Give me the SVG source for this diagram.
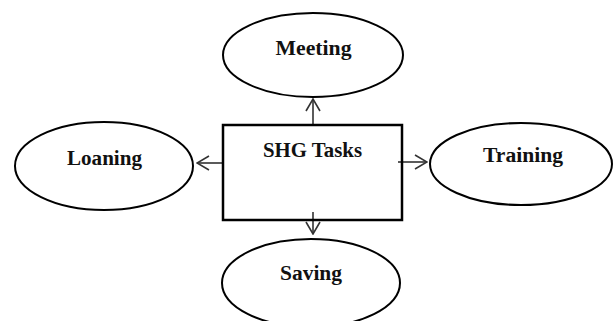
<svg xmlns="http://www.w3.org/2000/svg" width="616" height="321" viewBox="0 0 616 321">
<style>
.n{fill:#fff;stroke:#000;stroke-width:2}
.t{font-family:"Liberation Serif","Times New Roman",serif;font-weight:bold;font-size:20px;fill:#111;text-anchor:middle}
.c{stroke:#333;stroke-width:1.6;fill:none}
</style>
<defs>
<marker id="ah" viewBox="0 0 14 16" refX="13" refY="8" markerWidth="14" markerHeight="16" markerUnits="userSpaceOnUse" orient="auto">
<path d="M1,1 L13,8 L1,15" fill="none" stroke="#333" stroke-width="1.6"/>
</marker>
</defs>
<rect width="616" height="321" fill="#fff"/>
<g id="connectors">
<line class="c" x1="313" y1="125" x2="313" y2="99" marker-end="url(#ah)"/>
<line class="c" x1="223" y1="163" x2="197" y2="163" marker-end="url(#ah)"/>
<line class="c" x1="398" y1="162" x2="427" y2="162" marker-end="url(#ah)"/>
<line class="c" x1="313" y1="212" x2="313" y2="234" marker-end="url(#ah)"/>
</g>
<g id="shg">
<rect x="223" y="125" width="179" height="95" fill="none" stroke="#000" stroke-width="2.5"/>
<text class="t" x="312.5" y="157" textLength="99" lengthAdjust="spacingAndGlyphs">SHG Tasks</text>
</g>
<g id="meeting">
<ellipse class="n" cx="313" cy="55" rx="90" ry="42"/>
<text class="t" x="313.5" y="55" textLength="76" lengthAdjust="spacingAndGlyphs">Meeting</text>
</g>
<g id="loaning">
<ellipse class="n" cx="104" cy="166" rx="89" ry="44"/>
<text class="t" x="104.5" y="165" textLength="75" lengthAdjust="spacingAndGlyphs">Loaning</text>
</g>
<g id="training">
<ellipse class="n" cx="521" cy="164" rx="91" ry="41"/>
<text class="t" x="523" y="162" textLength="80" lengthAdjust="spacingAndGlyphs">Training</text>
</g>
<g id="saving">
<ellipse class="n" cx="311" cy="283" rx="89" ry="44"/>
<text class="t" x="311" y="280" textLength="62" lengthAdjust="spacingAndGlyphs">Saving</text>
</g>
</svg>
